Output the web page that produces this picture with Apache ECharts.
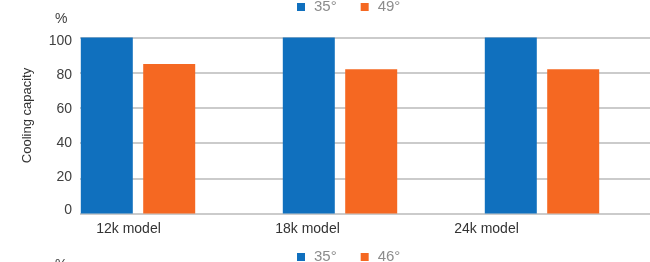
<!DOCTYPE html>
<html>
<head>
<meta charset="utf-8">
<script src="https://cdn.jsdelivr.net/npm/echarts@6/dist/echarts.min.js"></script>
<style>
  html, body { margin: 0; padding: 0; background: #fff; }
  #chart { width: 650px; height: 262px; }
</style>
</head>
<body>
<div id="chart"></div>
<script>
// data
var categories = ["12k model", "18k model", "24k model"];
var seriesNames = ["35°", "49°"];
var low = [100, 100, 100];     // 35°
var high = [85, 82, 82];       // 49°
var yTicks = [0, 20, 40, 60, 80, 100];
var nextLegend = ["35°", "46°"];  // legend of the chart below, cut off

var blue = "#1070be";
var orange = "#f56822";
var font = "Liberation Sans";

var myChart = echarts.init(document.getElementById("chart"));

var yBase = {
    type: "value",
    min: yTicks[0],
    max: yTicks[yTicks.length - 1],
    interval: yTicks[1] - yTicks[0]
};

var legendBase = {
    left: 297,
    padding: 0,
    orient: "horizontal",
    icon: "rect",
    itemWidth: 8,
    itemHeight: 8,
    itemGap: 24,
    selectedMode: false,
    textStyle: {
        fontFamily: font,
        fontSize: 15,
        color: "#8c8c8c",
        lineHeight: 15,
        padding: [0, 0, 5, 4]
    }
};

var option = {
    animation: false,
    title: [
        { text: "%", left: 55, top: 12, padding: 0, textStyle: { fontFamily: font, fontSize: 14, fontWeight: "normal", color: "#404040" } },
        { text: "%", left: 55, top: 258, padding: 0, textStyle: { fontFamily: font, fontSize: 14, fontWeight: "normal", color: "#404040" } }
    ],
    grid: [
        // bars
        { left: 37, right: 7, top: 37.5, bottom: 48.5 },
        // gridlines
        { left: 80, right: 0, top: 37.5, bottom: 48.5 },
        // category labels
        { left: 39, right: 74, top: 37.5, bottom: 48.5 },
        // y tick labels (sit slightly inside the gridlines in the source)
        { left: 80, right: 0, top: 41.5, bottom: 51.5 }
    ],
    xAxis: [
        { type: "category", gridIndex: 0, data: categories, show: false },
        {
            type: "category", gridIndex: 1, data: categories,
            axisLine: { show: false }, axisTick: { show: false }, axisLabel: { show: false }
        },
        {
            type: "category", gridIndex: 2, data: categories,
            axisLine: { show: false }, axisTick: { show: false },
            axisLabel: { margin: 9, fontFamily: font, fontSize: 14, color: "#333" }
        },
        { type: "category", gridIndex: 3, data: categories, show: false }
    ],
    yAxis: [
        Object.assign({ gridIndex: 0, show: false }, yBase),
        Object.assign({
            gridIndex: 1,
            name: "Cooling capacity",
            nameLocation: "middle",
            nameGap: 46,
            nameTextStyle: { fontFamily: font, fontSize: 13, color: "#333", padding: [0, 0, 0, 20] },
            axisLine: { show: false },
            axisTick: { show: false },
            axisLabel: { show: false },
            splitLine: { show: true, lineStyle: { color: "#cbcbcb", width: 2 } }
        }, yBase),
        Object.assign({ gridIndex: 2, show: false }, yBase),
        Object.assign({
            gridIndex: 3,
            axisLine: { show: false },
            axisTick: { show: false },
            splitLine: { show: false },
            axisLabel: { margin: 8, fontFamily: font, fontSize: 14, color: "#404040" }
        }, yBase)
    ],
    series: [
        {
            name: seriesNames[0], type: "bar", xAxisIndex: 0, yAxisIndex: 0,
            barWidth: 52, barGap: "20%",
            itemStyle: { color: blue },
            data: low
        },
        {
            name: seriesNames[1], type: "bar", xAxisIndex: 0, yAxisIndex: 0,
            barWidth: 52, barGap: "20%",
            itemStyle: { color: orange },
            data: high
        },
        {
            // only feeds the cut-off legend of the next chart
            name: nextLegend[1], type: "bar", xAxisIndex: 2, yAxisIndex: 2,
            itemStyle: { color: orange },
            data: []
        }
    ]
};

option.legend = [
    Object.assign({}, legendBase, { top: -3, data: seriesNames }),
    Object.assign({}, legendBase, { top: 247, data: nextLegend })
];

myChart.setOption(option);
</script>
</body>
</html>
